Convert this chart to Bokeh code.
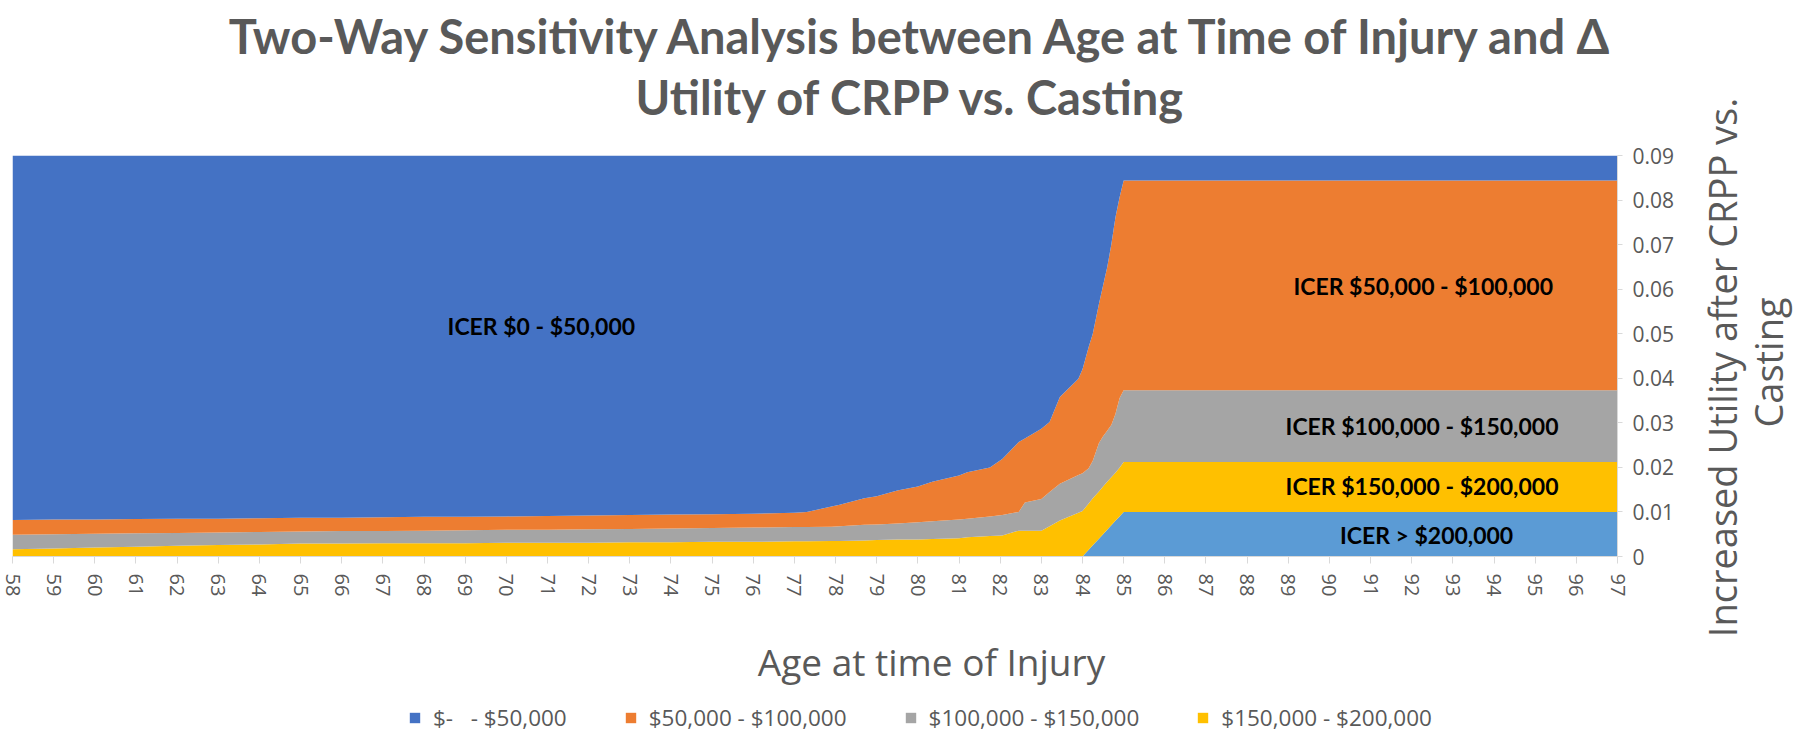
import numpy as np
from bokeh.plotting import figure
from bokeh.layouts import row, column
from bokeh.models import (ColumnDataSource, Range1d, FixedTicker, Legend,
                          LegendItem, CustomJSTickFormatter)
from bokeh.core.properties import value
from bokeh.embed import file_html
from bokeh.resources import INLINE

# ---------------- data ----------------
ages = [58, 59, 60, 61, 62, 63, 64, 65, 66, 67, 68, 69, 70, 71, 72, 73, 74, 75, 76, 77,
        77.3, 77.9, 78.1, 78.7, 79, 79.5, 80, 80.35, 81, 81.2, 81.75, 82.05, 82.45, 82.6,
        83, 83.2, 83.45, 83.9, 84, 84.15, 84.25, 84.4, 84.5, 84.6, 84.7, 84.8, 84.9, 85,
        86, 87, 88, 89, 90, 91, 92, 93, 94, 95, 96, 97]

# cumulative upper boundary of each band (Δ utility)
top_gt200 = [0]*38 + [0, .0015, .0025, .0040, .0050, .0060, .0070, .0080, .0090, .0100] + [.0100]*12
top_150_200 = [.0016, .0018, .0020, .0022, .0024, .0026, .0027, .0029, .0029, .0030,
               .0030, .0030, .0031, .0031, .0031, .0032, .0032, .0033, .0033, .0034,
               .0034, .0035, .0035, .0036, .0037, .0038, .0038, .0039, .0041, .0043,
               .0046, .0047, .0058, .0058, .0058, .0068, .0081, .0098, .0102, .0119,
               .0131, .0146, .0157, .0168, .0178, .0188, .0199, .0212] + [.0212]*12
top_100_150 = [.0049, .0050, .0051, .0052, .0053, .0054, .0055, .0056, .0057, .0057,
               .0058, .0059, .0060, .0060, .0061, .0062, .0063, .0064, .0065, .0066,
               .0066, .0067, .0068, .0071, .0072, .0074, .0077, .0079, .0083, .0085,
               .0090, .0093, .0100, .0121, .0129, .0145, .0163, .0183, .0187, .0198,
               .0215, .0255, .0270, .0282, .0295, .0320, .0355, .0373] + [.0373]*12
top_50_100 = [.0082, .0083, .0083, .0084, .0085, .0085, .0086, .0087, .0087, .0088,
              .0089, .0089, .0090, .0091, .0092, .0093, .0094, .0095, .0096, .0098,
              .0100, .0112, .0116, .0131, .0135, .0148, .0157, .0168, .0182, .0189,
              .0200, .0219, .0257, .0265, .0287, .0302, .0358, .0399, .0420, .0470,
              .0500, .0567, .0608, .0649, .0700, .0761, .0806, .0844] + [.0844]*12
top_0_50 = [0.09]*len(ages)   # band fills up to the axis maximum

x_ticks = list(range(58, 98))
y_ticks = [0, 0.01, 0.02, 0.03, 0.04, 0.05, 0.06, 0.07, 0.08, 0.09]

legend_labels = ["$-   - $50,000", "$50,000 - $100,000", "$100,000 - $150,000", "$150,000 - $200,000"]
band_texts = ["ICER $0 - $50,000", "ICER $50,000 - $100,000", "ICER $100,000 - $150,000",
              "ICER $150,000 - $200,000", "ICER > $200,000"]
band_x = [70.85, 92.28, 92.25, 92.25, 92.36]
band_y = [0.0517, 0.0608, 0.0292, 0.0158, 0.0049]
title_lines = ["Two-Way Sensitivity Analysis between Age at Time of Injury and \u0394",
               "Utility of CRPP vs. Casting"]
x_title = "Age at time of Injury"
y_title_lines = ["Increased Utility after CRPP vs.", "Casting"]

colors = {"gt200": "#5B9BD5", "b150": "#FFC000", "b100": "#A5A5A5", "b50": "#ED7D31", "b0": "#4472C4"}

# ---------------- bands for stacking ----------------
t1 = np.array(top_gt200); t2 = np.array(top_150_200); t3 = np.array(top_100_150)
t4 = np.array(top_50_100); t5 = np.array(top_0_50)
src = ColumnDataSource(dict(age=ages, gt200=t1, b150=t2 - t1, b100=t3 - t2, b50=t4 - t3, b0=t5 - t4))

# ---------------- geometry (window px) ----------------
W, H = 1800, 735
FL, FR, FT, FB = 12, 1617, 155, 556
XMIN, XMAX, YMAX = 58, 97, 0.09
LEFT_W = 1688          # width of the left column (title / chart / bottom)
TOP_PAD = 15           # room above the frame for the top tick label
TITLE_H = FT - TOP_PAD
MAIN_H = TOP_PAD + (FB - FT) + 50
BOT_H = H - TITLE_H - MAIN_H

TXT = "#595959"


def blank(y_top, height, x0=FL, x1=FR, bl=FL, br=LEFT_W - FR):
    """Axis-less figure whose data units are window pixels (y measured upward)."""
    f = figure(frame_width=x1 - x0, frame_height=height, x_range=Range1d(x0, x1),
               y_range=Range1d(H - (y_top + height), H - y_top),
               x_axis_location=None, y_axis_location=None,
               min_border_left=bl, min_border_right=br, min_border_top=0, min_border_bottom=0,
               output_backend="svg", toolbar_location=None)
    f.title.visible = False
    f.outline_line_color = None
    f.grid.grid_line_color = None
    return f


# ---------------- main chart ----------------
p = figure(frame_width=FR - FL, frame_height=FB - FT,
           min_border_left=FL, min_border_right=LEFT_W - FR,
           min_border_top=TOP_PAD, min_border_bottom=MAIN_H - TOP_PAD - (FB - FT),
           x_range=Range1d(XMIN, XMAX), y_range=Range1d(0, YMAX),
           y_axis_location="right", output_backend="svg", toolbar_location=None)
p.title.visible = False
p.outline_line_color = None
p.grid.grid_line_color = None

stack = ["gt200", "b150", "b100", "b50", "b0"]
p.varea_stack(stackers=stack, x="age", color=[colors[s] for s in stack], source=src)

xa = p.xaxis[0]
xa.ticker = FixedTicker(ticks=x_ticks)
xa.major_label_orientation = "vertical"
xa.major_label_text_font = "Open Sans"
xa.major_label_text_font_size = "20px"
xa.major_label_text_color = TXT
xa.axis_line_color = "#D9D9D9"
xa.major_tick_line_color = "#D9D9D9"
xa.major_tick_out = 7
xa.major_tick_in = 0
xa.minor_tick_line_color = None
xa.major_label_standoff = 10

ya = p.yaxis[0]
ya.ticker = FixedTicker(ticks=y_ticks)
ya.formatter = CustomJSTickFormatter(code="return tick == 0 ? '0' : tick.toFixed(2);")
ya.major_label_text_font = "Open Sans"
ya.major_label_text_font_size = "21px"
ya.major_label_text_color = TXT
ya.axis_line_color = "#D9D9D9"
ya.major_tick_line_color = "#D9D9D9"
ya.major_tick_out = 5
ya.major_tick_in = 0
ya.minor_tick_line_color = None
ya.major_label_standoff = 10

p.text(x=band_x, y=band_y, text=band_texts, text_align="center", text_baseline="middle",
       text_font=value("Lato"), text_font_style="bold", text_font_size=value("23px"),
       text_color="black")

# ---------------- title ----------------
tf = blank(0, TITLE_H)
tf.text(x=[923, 911], y=[H - 35, H - 96.5], text=title_lines, text_align="center",
        text_baseline="alphabetic", text_font=value("Lato"), text_font_style="bold",
        text_font_size=value("47px"), text_color=TXT)

# ---------------- bottom: x title + legend ----------------
bf = blank(TITLE_H + MAIN_H, BOT_H)
bf.text(x=[931], y=[H - 661], text=[x_title], text_align="center", text_baseline="middle",
        text_font=value("Open Sans"), text_font_size=value("37px"), text_color=TXT)
dummies = [bf.rect(x=[-1000], y=[-1000], width=1, height=1, fill_color=colors[k], line_color=None)
           for k in ["b0", "b50", "b100", "b150"]]
leg = Legend(items=[LegendItem(label=lab, renderers=[r]) for lab, r in zip(legend_labels, dummies)],
             orientation="horizontal", location=(396, 2),
             glyph_width=13, glyph_height=13, label_standoff=12, spacing=57,
             padding=0, margin=0, border_line_alpha=0, background_fill_alpha=0,
             label_text_font="Open Sans", label_text_font_size="22.5px",
             label_text_color=TXT, label_height=14, label_text_baseline="middle")
bf.add_layout(leg)

# ---------------- right: y axis title ----------------
yf = blank(0, H, x0=LEFT_W, x1=W, bl=0, br=0)
yf.text(x=[1721, 1767], y=[H - 367, H - 362], text=y_title_lines, angle=np.pi / 2,
        text_align="center", text_baseline="middle", text_font=value("Open Sans"),
        text_font_size=value("38px"), text_color=TXT)

layout = row(column(tf, p, bf), yf)
open("out.html", "w").write(file_html(layout, INLINE))
